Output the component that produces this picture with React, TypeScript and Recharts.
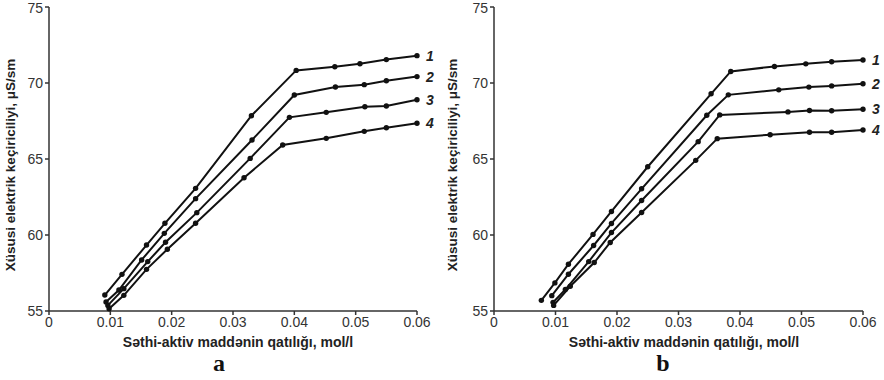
import { LineChart, Line, XAxis, YAxis, LabelList } from 'recharts'

// chart a: concentration (mol/l) and conductivity (µS/sm) for curves 1-4
const A1_X = [0.0091, 0.0119, 0.0159, 0.0189, 0.0239, 0.033, 0.0403, 0.0466, 0.0507, 0.055, 0.06]
const A1_Y = [56.05, 57.41, 59.34, 60.77, 63.07, 67.85, 70.83, 71.07, 71.27, 71.54, 71.8]
const A2_X = [0.0093, 0.0114, 0.0151, 0.0188, 0.0239, 0.0331, 0.04, 0.0467, 0.0514, 0.055, 0.06]
const A2_Y = [55.59, 56.38, 58.36, 60.11, 62.39, 66.25, 69.21, 69.74, 69.89, 70.15, 70.42]
const A3_X = [0.0096, 0.0122, 0.0161, 0.019, 0.0241, 0.0328, 0.0392, 0.0452, 0.0515, 0.055, 0.06]
const A3_Y = [55.37, 56.47, 58.25, 59.52, 61.47, 65.04, 67.74, 68.07, 68.44, 68.49, 68.9]
const A4_X = [0.0098, 0.0122, 0.0159, 0.0193, 0.0239, 0.0318, 0.0381, 0.0452, 0.0514, 0.055, 0.06]
const A4_Y = [55.15, 56.03, 57.74, 59.06, 60.77, 63.77, 65.92, 66.36, 66.82, 67.06, 67.35]

// chart b
const B1_X = [0.0077, 0.0099, 0.0121, 0.0161, 0.0191, 0.025, 0.0353, 0.0385, 0.0456, 0.0507, 0.0549, 0.06]
const B1_Y = [55.7, 56.85, 58.08, 60.04, 61.55, 64.49, 69.29, 70.76, 71.09, 71.26, 71.4, 71.51]
const B2_X = [0.0094, 0.0121, 0.0162, 0.0191, 0.024, 0.0346, 0.0381, 0.0463, 0.0512, 0.0549, 0.06]
const B2_Y = [56.01, 57.42, 59.31, 60.76, 63.04, 67.88, 69.22, 69.55, 69.73, 69.81, 69.95]
const B3_X = [0.0096, 0.0116, 0.0154, 0.0191, 0.024, 0.0332, 0.0367, 0.0478, 0.0513, 0.0549, 0.06]
const B3_Y = [55.57, 56.41, 58.25, 60.16, 62.27, 66.14, 67.9, 68.1, 68.19, 68.17, 68.27]
const B4_X = [0.0097, 0.0124, 0.0163, 0.0189, 0.024, 0.0328, 0.0363, 0.0449, 0.0513, 0.0549, 0.06]
const B4_Y = [55.37, 56.63, 58.19, 59.51, 61.48, 64.91, 66.34, 66.6, 66.76, 66.76, 66.91]

const CURVE_NAMES = ['1', '2', '3', '4']
const X_TICKS = [0, 0.01, 0.02, 0.03, 0.04, 0.05, 0.06]
const Y_TICKS = [55, 60, 65, 70, 75]

const X_TITLE = 'Səthi-aktiv maddənin qatılığı, mol/l'
const Y_TITLE = 'Xüsusi elektrik keçiriciliyi, μS/sm'

const FONT = '"Liberation Sans", Arial, sans-serif'
const INK = '#111'

const toPoints = (xs: number[], ys: number[]) => xs.map((x, i) => ({ x, y: ys[i] }))

const SERIES_A = [
  toPoints(A1_X, A1_Y),
  toPoints(A2_X, A2_Y),
  toPoints(A3_X, A3_Y),
  toPoints(A4_X, A4_Y),
]
const SERIES_B = [
  toPoints(B1_X, B1_Y),
  toPoints(B2_X, B2_Y),
  toPoints(B3_X, B3_Y),
  toPoints(B4_X, B4_Y),
]

interface PanelProps {
  series: { x: number; y: number }[][]
  yAxisWidth: number
  rightMargin: number
  xTitleX: number
}

function Panel({ series, yAxisWidth, rightMargin, xTitleX }: PanelProps) {
  return (
    <LineChart
      width={442}
      height={352}
      margin={{ top: 7, right: rightMargin, left: 0, bottom: 0 }}
    >
      <XAxis
        type="number"
        dataKey="x"
        domain={[0, 0.06]}
        ticks={X_TICKS}
        allowDuplicatedCategory={false}
        height={41}
        tickSize={4}
        stroke="#333"
        strokeWidth={1.5}
        tick={{ fill: '#333', fontSize: 14, fontFamily: FONT }}
        tickFormatter={(v: number) => (v === 0 ? '0' : String(v))}
        label={(p: any) => (
          <text
            x={xTitleX}
            y={p.viewBox.y + 36}
            textAnchor="middle"
            fontFamily={FONT}
            fontSize={14}
            fontWeight="bold"
            fill="#222"
          >
            {X_TITLE}
          </text>
        )}
      />
      <YAxis
        type="number"
        dataKey="y"
        domain={[55, 75]}
        ticks={Y_TICKS}
        width={yAxisWidth}
        tickSize={4}
        stroke="#333"
        strokeWidth={1.5}
        tick={{ fill: '#333', fontSize: 14, fontFamily: FONT }}
        label={(p: any) => (
          <text
            x={0}
            y={0}
            transform={`translate(${p.viewBox.x + 15}, 165) rotate(-90)`}
            textAnchor="middle"
            fontFamily={FONT}
            fontSize={13.5}
            fontWeight="bold"
            fill="#222"
          >
            {Y_TITLE}
          </text>
        )}
      />
      {series.map((data, i) => (
        <Line
          key={CURVE_NAMES[i]}
          data={data}
          dataKey="y"
          type="linear"
          stroke={INK}
          strokeWidth={2}
          dot={{ r: 2.7, fill: INK, stroke: INK, strokeWidth: 0 }}
          activeDot={false}
          isAnimationActive={false}
        >
          <LabelList
            dataKey="y"
            content={(p: any) =>
              p.index === data.length - 1 ? (
                <text
                  x={p.x + 9}
                  y={p.y + 5}
                  fontFamily={FONT}
                  fontSize={14}
                  fontWeight="bold"
                  fontStyle="italic"
                  fill="#222"
                >
                  {CURVE_NAMES[i]}
                </text>
              ) : null
            }
          />
        </Line>
      ))}
    </LineChart>
  )
}

const captionStyle = {
  position: 'absolute' as const,
  top: 351,
  width: 40,
  lineHeight: '24px',
  textAlign: 'center' as const,
  fontFamily: '"Liberation Serif", "Times New Roman", serif',
  fontWeight: 'bold' as const,
  fontSize: 24,
  color: '#111',
}

export default function App() {
  return (
    <div style={{ position: 'relative', width: 884, height: 380, background: '#fff' }}>
      <style>{'body { margin: 0; }'}</style>
      <div style={{ position: 'absolute', left: 0, top: 0 }}>
        <Panel series={SERIES_A} yAxisWidth={49} rightMargin={25} xTitleX={238} />
      </div>
      <div style={{ position: 'absolute', left: 442, top: 0 }}>
        <Panel series={SERIES_B} yAxisWidth={52} rightMargin={21} xTitleX={242} />
      </div>
      <div style={{ ...captionStyle, left: 199 }}>a</div>
      <div style={{ ...captionStyle, left: 643 }}>b</div>
    </div>
  )
}
